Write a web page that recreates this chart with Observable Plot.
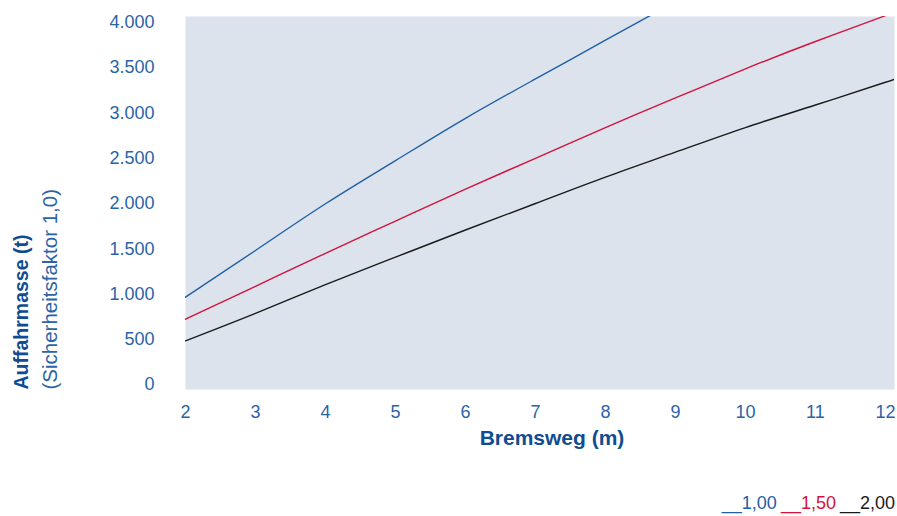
<!DOCTYPE html>
<html>
<head>
<meta charset="utf-8">
<script src="https://cdn.jsdelivr.net/npm/d3@7"></script>
<script src="https://cdn.jsdelivr.net/npm/@observablehq/plot@0.6"></script>
<style>
  html, body { margin: 0; padding: 0; background: #fff; }
  body { width: 897px; font-family: "Liberation Sans", Arial, sans-serif; }
  #legend { text-align: right; padding-right: 2px; font-size: 18px; line-height: 22px; margin-top: 32px; }
  #legend span { margin-left: 4px; }
</style>
</head>
<body>
<div id="chart"></div>
<div id="legend"></div>
<script>
// Bremsweg (m)
const xBlue  = [2, 3, 4, 5, 6, 7, 8, 9];
const blue   = [965, 1481, 1997, 2474, 2941, 3376, 3804, 4230];     // Sicherheitsfaktor 1,00
const xRed   = [2, 3, 4, 5, 6, 7, 8, 9, 10, 11, 12, 12.13];
const red    = [722, 1085, 1450, 1806, 2160, 2499, 2839, 3166, 3488, 3790, 4075, 4110]; // 1,50
const xBlack = [2, 3, 4, 5, 6, 7, 8, 9, 10, 11, 12, 12.13];
const black  = [483, 787, 1103, 1407, 1707, 2000, 2292, 2567, 2839, 3088, 3340, 3372]; // 2,00

const xTicks = [2, 3, 4, 5, 6, 7, 8, 9, 10, 11, 12];
const yTicks = [0, 500, 1000, 1500, 2000, 2500, 3000, 3500, 4000];
const seriesNames = ["1,00", "1,50", "2,00"];
const seriesColors = ["#1f5fa3", "#d4123f", "#1a1a1a"];

const de = d3.formatLocale({decimal: ",", thousands: ".", grouping: [3], currency: ["", " €"]});
const fmt = de.format(",");

const mk = (xs, ys, s) => xs.map((x, i) => ({x, y: ys[i], s}));
const rows = [
  ...mk(xBlue, blue, seriesNames[0]),
  ...mk(xRed, red, seriesNames[1]),
  ...mk(xBlack, black, seriesNames[2])
];

const tickColor = "#2b64a6";
const titleColor = "#0f4c93";

const chart = Plot.plot({
  width: 897,
  height: 460,
  marginTop: 16,
  marginBottom: 71,
  marginLeft: 185,
  marginRight: 3,
  style: {fontFamily: "'Liberation Sans', Arial, sans-serif", fontSize: "18px", background: "#fff"},
  x: {domain: [2, 12.13]},
  y: {domain: [-55, 4066]},
  color: {domain: seriesNames, range: seriesColors},
  marks: [
    Plot.frame({fill: "#dce3ec", stroke: null}),
    Plot.line(rows, {x: "x", y: "y", stroke: "s", z: "s", strokeWidth: 1.4, curve: "natural", clip: true}),
    Plot.axisX({ticks: xTicks, tickSize: 0, tickPadding: 16, tickFormat: d => String(d), fill: tickColor, fontSize: 18, label: null}),
    Plot.axisY({ticks: yTicks, tickSize: 0, tickPadding: 31, tickFormat: fmt, fill: tickColor, fontSize: 18, label: null}),
    Plot.text(["Bremsweg (m)"], {frameAnchor: "bottom", dx: 12, dy: 55, text: d => d, fill: titleColor, fontWeight: "bold", fontSize: 21}),
    Plot.text(["Auffahrmasse (t)"], {frameAnchor: "bottom-left", dx: -158, dy: 0, rotate: -90, textAnchor: "start", text: d => d, fill: titleColor, fontWeight: "bold", fontSize: 19.5}),
    Plot.text(["(Sicherheitsfaktor 1,0)"], {frameAnchor: "bottom-left", dx: -129, dy: 0, rotate: -90, textAnchor: "start", text: d => d, fill: tickColor, fontSize: 20.5})
  ]
});
document.getElementById("chart").appendChild(chart);

const legend = document.getElementById("legend");
seriesNames.forEach((n, i) => {
  const s = document.createElement("span");
  s.textContent = "__" + n;
  s.style.color = seriesColors[i];
  legend.appendChild(s);
});
</script>
</body>
</html>
